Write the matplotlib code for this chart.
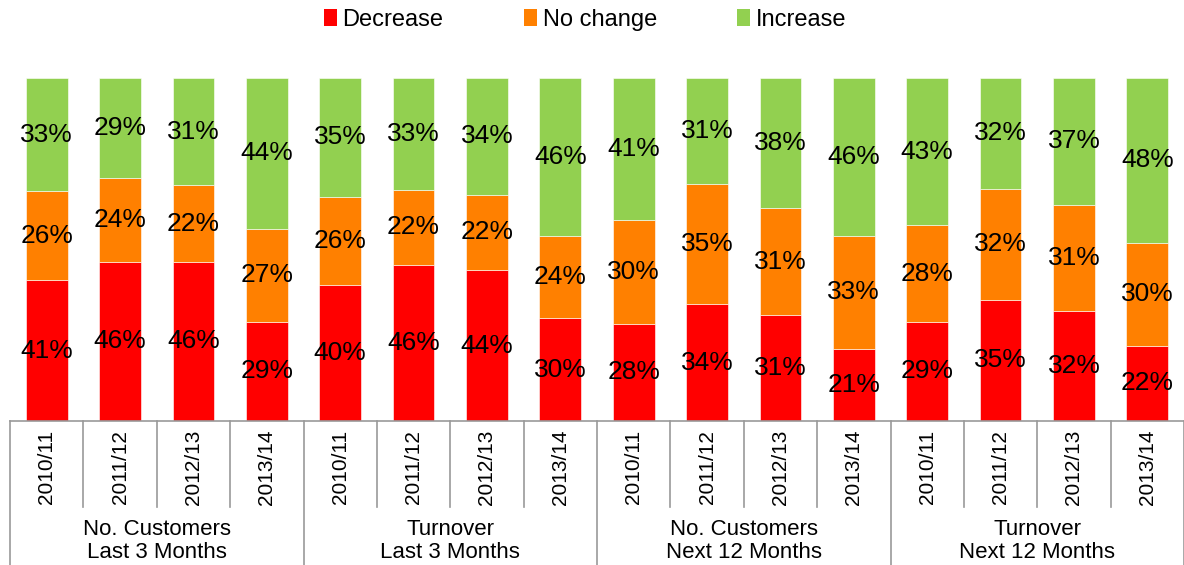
import matplotlib
matplotlib.use("Agg")
import matplotlib.pyplot as plt
from matplotlib.patches import Patch
import numpy as np

plt.rcParams['font.family'] = ['Liberation Sans', 'DejaVu Sans']

years = ["2010/11", "2011/12", "2012/13", "2013/14"] * 4
groups = ["No. Customers\nLast 3 Months", "Turnover\nLast 3 Months",
          "No. Customers\nNext 12 Months", "Turnover\nNext 12 Months"]
decrease = [41, 46, 46, 29, 40, 46, 44, 30, 28, 34, 31, 21, 29, 35, 32, 22]
no_change = [26, 24, 22, 27, 26, 22, 22, 24, 30, 35, 31, 33, 28, 32, 31, 30]
increase = [33, 29, 31, 44, 35, 33, 34, 46, 41, 31, 38, 46, 43, 32, 37, 48]
series_names = ["Decrease", "No change", "Increase"]
colors = ["#FF0000", "#FF8000", "#92D050"]

W, H = 1184, 565
fig = plt.figure(figsize=(W / 100, H / 100), dpi=100)
ax = fig.add_axes([10 / W, (H - 421) / H, 1174 / W, (421 - 78) / H])

data = np.array([decrease, no_change, increase], dtype=float)
totals = data.sum(axis=0)
frac = data / totals
x = np.arange(len(years))
bottom = np.zeros(len(years))
for vals, raw, c in zip(frac, data, colors):
    ax.bar(x, vals, bottom=bottom, width=0.57, color=c, edgecolor='#FFFFFF',
           linewidth=0.4)
    for xi, b, v, r in zip(x, bottom, vals, raw):
        ax.text(xi, b + v / 2, f"{int(r)}%", ha='center', va='center',
                fontsize=19, color='black')
    bottom += vals

ax.set_xlim(-0.5, len(years) - 0.5)
ax.set_ylim(0, 1)
for s in ['top', 'left', 'right']:
    ax.spines[s].set_visible(False)
ax.spines['bottom'].set_color('#999999')
ax.spines['bottom'].set_linewidth(1.2)
ax.set_xticks([])
ax.set_yticks([])

ax_h = 421 - 78
tick_bottom = -(507 - 421) / ax_h
group_bottom = -(565 - 421) / ax_h
trans = ax.get_xaxis_transform()
for i in range(len(years) + 1):
    xb = i - 0.5
    yb = group_bottom if i % 4 == 0 else tick_bottom
    ax.plot([xb, xb], [0, yb], transform=trans, color='#999999', lw=1.2,
            clip_on=False)
for i, lab in enumerate(years):
    ax.text(i, -(467 - 421) / ax_h, lab, transform=trans, rotation=90,
            ha='center', va='center', fontsize=15)
for g, lab in enumerate(groups):
    ax.text(g * 4 + 1.5, -(541 - 421) / ax_h, lab, transform=trans,
            ha='center', va='center', fontsize=16, linespacing=1.1)

handles = [Patch(facecolor=c, edgecolor='none') for c in colors]
fig.legend(handles, series_names, loc='center', bbox_to_anchor=(585 / W, 1 - 20 / H),
           ncol=3, frameon=False, fontsize=17, handlelength=0.55, handleheight=0.75,
           handletextpad=0.25, columnspacing=3.4)

fig.savefig("out.png", dpi=100)
